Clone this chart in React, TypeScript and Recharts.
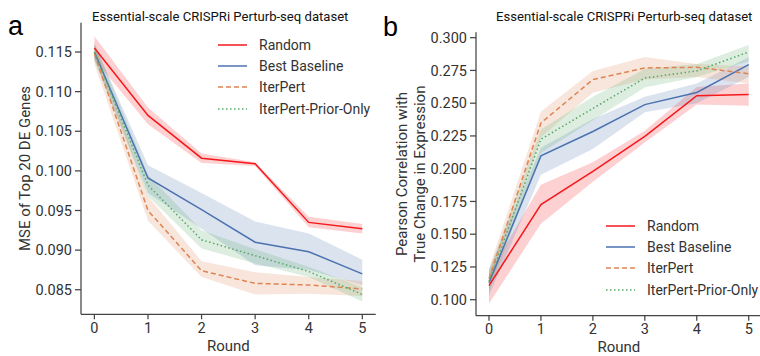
import { ComposedChart, Line, Area, XAxis, YAxis, Label } from 'recharts';

// rounds shared by both panels
const rounds = [0, 1, 2, 3, 4, 5];
const roundTicks = [0, 1, 2, 3, 4, 5];

// panel a: MSE of top 20 DE genes
const mseRandom = [0.1155, 0.107, 0.1016, 0.1009, 0.0935, 0.0927];
const mseRandomLo = [0.1141, 0.1059, 0.101, 0.1006, 0.0929, 0.0921];
const mseRandomHi = [0.117, 0.108, 0.1022, 0.1011, 0.0942, 0.0933];
const mseBaseline = [0.115, 0.0991, 0.0951, 0.091, 0.0898, 0.087];
const mseBaselineLo = [0.114, 0.0972, 0.0927, 0.0881, 0.0875, 0.0856];
const mseBaselineHi = [0.116, 0.1007, 0.0972, 0.0936, 0.0921, 0.0888];
const mseIterPert = [0.1148, 0.095, 0.0874, 0.0858, 0.0856, 0.0851];
const mseIterPertLo = [0.1135, 0.0937, 0.0866, 0.0844, 0.0845, 0.0842];
const mseIterPertHi = [0.116, 0.0968, 0.0886, 0.0872, 0.0866, 0.0861];
const msePrior = [0.115, 0.0982, 0.0913, 0.0893, 0.0873, 0.0844];
const msePriorLo = [0.114, 0.0968, 0.0902, 0.0883, 0.0866, 0.0835];
const msePriorHi = [0.1162, 0.0995, 0.0925, 0.0901, 0.0879, 0.0853];
const mseTicks = [0.085, 0.09, 0.095, 0.1, 0.105, 0.11, 0.115];

// panel b: pearson correlation
const prRandom = [0.1108, 0.1726, 0.1979, 0.2246, 0.2557, 0.2567];
const prRandomLo = [0.0972, 0.158, 0.19, 0.22, 0.249, 0.248];
const prRandomHi = [0.12, 0.1877, 0.205, 0.229, 0.2624, 0.265];
const prBaseline = [0.113, 0.2098, 0.2284, 0.2489, 0.2582, 0.2794];
const prBaselineLo = [0.103, 0.1953, 0.215, 0.243, 0.25, 0.27];
const prBaselineHi = [0.123, 0.216, 0.238, 0.255, 0.265, 0.285];
const prIterPert = [0.116, 0.2349, 0.268, 0.2769, 0.2774, 0.2725];
const prIterPertLo = [0.108, 0.224, 0.258, 0.268, 0.27, 0.265];
const prIterPertHi = [0.124, 0.2437, 0.2746, 0.2853, 0.28, 0.278];
const prPrior = [0.114, 0.2225, 0.246, 0.2692, 0.2746, 0.2891];
const prPriorLo = [0.106, 0.212, 0.237, 0.262, 0.27, 0.282];
const prPriorHi = [0.122, 0.23, 0.255, 0.276, 0.28, 0.2945];
const prTicks = [0.1, 0.125, 0.15, 0.175, 0.2, 0.225, 0.25, 0.275, 0.3];

const FONT = 'Roboto, sans-serif';
const TEXT = '#333';
const AXIS = '#444';

const series = [
  { key: 'random', name: 'Random', color: '#f5191c', dash: undefined },
  { key: 'baseline', name: 'Best Baseline', color: '#4c72b0', dash: undefined },
  { key: 'iterpert', name: 'IterPert', color: '#dd8452', dash: '5 3' },
  { key: 'prior', name: 'IterPert-Prior-Only', color: '#55a868', dash: '1.5 2.5' },
];

const buildRows = (m: number[][], lo: number[][], hi: number[][]) =>
  rounds.map((r, i) => {
    const row: any = { round: r };
    series.forEach((s, j) => {
      row[s.key] = m[j][i];
      row[s.key + 'Band'] = [lo[j][i], hi[j][i]];
    });
    return row;
  });

const mseData = buildRows(
  [mseRandom, mseBaseline, mseIterPert, msePrior],
  [mseRandomLo, mseBaselineLo, mseIterPertLo, msePriorLo],
  [mseRandomHi, mseBaselineHi, mseIterPertHi, msePriorHi]
);
const prData = buildRows(
  [prRandom, prBaseline, prIterPert, prPrior],
  [prRandomLo, prBaselineLo, prIterPertLo, prPriorLo],
  [prRandomHi, prBaselineHi, prIterPertHi, prPriorHi]
);

// legend drawn outside recharts so it doesn't eat plot space
const LegendBox = ({ left, top }: { left: number; top: number }) => (
  <div style={{ position: 'absolute', left, top, fontFamily: FONT, fontSize: 14, color: TEXT }}>
    {series.map((s) => (
      <div key={s.key} style={{ display: 'flex', alignItems: 'center', height: 21.3, whiteSpace: 'nowrap' }}>
        <svg width={29} height={6} style={{ marginRight: 12 }}>
          <line x1={0} y1={3} x2={29} y2={3} stroke={s.color} strokeWidth={1.5} strokeDasharray={s.dash} />
        </svg>
        <span>{s.name}</span>
      </div>
    ))}
  </div>
);

const YLabel = ({ lines, x }: { lines: string[]; x: number }) => (props: any) => {
  const vb = props.viewBox;
  const cy = vb.y + vb.height / 2;
  return (
    <text
      transform={`translate(${x}, ${cy}) rotate(-90)`}
      textAnchor="middle"
      fill={TEXT}
      fontFamily={FONT}
      fontSize={15}
    >
      {lines.map((l, i) => (
        <tspan key={i} x={0} dy={i === 0 ? (lines.length > 1 ? -4 : 5) : 18.3}>
          {l}
        </tspan>
      ))}
    </text>
  );
};

function Panel(props: {
  data: any[];
  domain: [number, number];
  ticks: number[];
  width: number;
  margin: any;
  yLabel: string[];
  yLabelX: number;
}) {
  const { data, domain, ticks, width, margin, yLabel, yLabelX } = props;
  const tick = { fill: TEXT, fontSize: 14.5, fontFamily: FONT };
  return (
    <ComposedChart width={width} height={356} data={data} margin={margin}>
      <XAxis
        dataKey="round"
        type="number"
        domain={[-0.25, 5.25]}
        ticks={roundTicks}
        allowDataOverflow
        stroke={AXIS}
        strokeWidth={1.25}
        tickSize={5}
        tickMargin={3}
        tick={tick}
        height={30}
      >
        <Label value="Round" position="bottom" offset={-4} fill={TEXT} fontSize={15} fontFamily={FONT} />
      </XAxis>
      <YAxis
        type="number"
        domain={domain}
        ticks={ticks}
        allowDataOverflow
        stroke={AXIS}
        strokeWidth={1.25}
        tickSize={6}
        tickMargin={3}
        tick={tick}
        width={60}
        tickFormatter={(v: number) => v.toFixed(3)}
        label={{ content: YLabel({ lines: yLabel, x: yLabelX }) } as any}
      />
      {series.map((s) => (
        <Area
          key={s.key + 'Band'}
          dataKey={s.key + 'Band'}
          stroke="none"
          fill={s.color}
          fillOpacity={0.2}
          isAnimationActive={false}
          activeDot={false}
          dot={false}
          legendType="none"
        />
      ))}
      {series.map((s) => (
        <Line
          key={s.key}
          dataKey={s.key}
          name={s.name}
          stroke={s.color}
          strokeWidth={1.5}
          strokeDasharray={s.dash}
          dot={false}
          activeDot={false}
          isAnimationActive={false}
        />
      ))}
    </ComposedChart>
  );
}

export default function App() {
  const title: any = {
    position: 'absolute',
    fontFamily: FONT,
    fontSize: 13.1,
    color: '#111',
    whiteSpace: 'nowrap',
  };
  const letter: any = {
    position: 'absolute',
    fontFamily: 'Liberation Sans, Arial, sans-serif',
    fontSize: 27,
    color: '#000',
  };
  return (
    <div
      style={{
        position: 'absolute',
        left: 0,
        top: 0,
        width: 760,
        height: 356,
        overflow: 'hidden',
        background: '#fff',
      }}
    >
      <div style={{ position: 'absolute', left: 0, top: 0 }}>
        <Panel
          data={mseData}
          domain={[0.0819, 0.1187]}
          ticks={mseTicks}
          width={380}
          margin={{ top: 22.7, right: 4.3, bottom: 11.7, left: 21 }}
          yLabel={['MSE of Top 20 DE Genes']}
          yLabelX={25}
        />
      </div>
      <div style={{ position: 'absolute', left: 380, top: 0 }}>
        <Panel
          data={prData}
          domain={[0.0878, 0.3041]}
          ticks={prTicks}
          width={384}
          margin={{ top: 32.3, right: 2.3, bottom: 10.3, left: 36 }}
          yLabel={['Pearson Correlation with', 'True Change in Expression']}
          yLabelX={31}
        />
      </div>
      <LegendBox left={218} top={34} />
      <LegendBox left={606} top={215} />
      <div style={{ ...title, left: 92, top: 9 }}>Essential-scale CRISPRi Perturb-seq dataset</div>
      <div style={{ ...title, left: 496, top: 9 }}>Essential-scale CRISPRi Perturb-seq dataset</div>
      <div style={{ ...letter, left: 8, top: 10.5 }}>a</div>
      <div style={{ ...letter, left: 383, top: 11.5 }}>b</div>
    </div>
  );
}
